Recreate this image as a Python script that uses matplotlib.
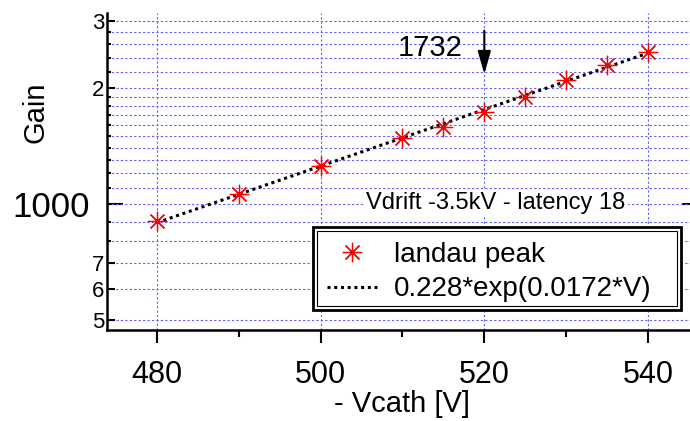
import numpy as np
import matplotlib
matplotlib.use('Agg')
import matplotlib.pyplot as plt
from matplotlib.ticker import FixedLocator, FixedFormatter, NullLocator
from matplotlib.patches import Rectangle

# data
vcath = [480, 490, 500, 510, 515, 520, 525, 530, 535, 540]
gain = [903, 1062, 1258, 1482, 1589, 1732, 1901, 2101, 2299, 2489]

fit_label = '0.228*exp(0.0172*V)'
point_label = 'landau peak'
run_info = 'Vdrift -3.5kV - latency 18'

ytick_major = [500, 600, 700, 2000, 3000]
ytick_major_labels = ['5', '6', '7', '2', '3']
ytick_minor = [800, 900, 1000, 1100, 1200, 1300, 1400, 1500, 1600, 1700,
               1800, 1900, 2200, 2400, 2600, 2800]
xtick_major = [480, 500, 520, 540]
xtick_minor = [490, 510, 530]

plt.rcParams['font.family'] = ['Liberation Sans', 'DejaVu Sans']

fig = plt.figure(figsize=(6.9, 4.21), dpi=100)
ax = fig.add_axes([0.1551, 0.2162, 0.8478, 0.7530])

grid_kw = dict(color='#6060ff', linestyle=(0, (2, 2)), linewidth=0.8)

ax.set_yscale('log')
ax.set_xlim(473.89, 545.38)
ax.set_ylim(470, 3139)

# exponential fit through the points
b, a = np.polyfit(vcath, np.log(gain), 1)
vfit = np.linspace(vcath[0], vcath[-1], 100)
ax.plot(vfit, np.exp(a + b * vfit), color='black', linestyle=(0, (1, 1.2)),
        linewidth=2.2, zorder=3, label=fit_label)
ax.plot(vcath, gain, linestyle='none', marker=(8, 2, 0), markersize=14,
        markeredgecolor='red', markeredgewidth=0.9, zorder=4,
        label=point_label)

# y ticks
ax.yaxis.set_major_locator(FixedLocator(ytick_major))
ax.yaxis.set_major_formatter(FixedFormatter(ytick_major_labels))
ax.yaxis.set_minor_locator(FixedLocator(ytick_minor))
ax.yaxis.set_minor_formatter(FixedFormatter([''] * len(ytick_minor)))
ax.tick_params(axis='y', which='major', direction='in', length=6, width=1.5,
               labelsize=16, pad=2)
ax.tick_params(axis='y', which='minor', direction='in', length=3, width=1.5)

# the 1000 tick, long and with a big label
sec = ax.secondary_yaxis('left')
sec.yaxis.set_major_locator(FixedLocator([1000]))
sec.yaxis.set_major_formatter(FixedFormatter(['1000']))
sec.yaxis.set_minor_locator(NullLocator())
sec.tick_params(axis='y', direction='in', length=11.5, width=1.5,
                labelsize=25, pad=12)
sec.spines['left'].set_visible(False)
sec_r = ax.secondary_yaxis('right')
sec_r.yaxis.set_major_locator(FixedLocator([1000]))
sec_r.yaxis.set_minor_locator(NullLocator())
sec_r.tick_params(axis='y', direction='in', length=7, width=1.5,
                  labelright=False)
sec_r.spines['right'].set_visible(False)

# x ticks
ax.xaxis.set_major_locator(FixedLocator(xtick_major))
ax.xaxis.set_minor_locator(FixedLocator(xtick_minor))
ax.tick_params(axis='x', which='major', direction='out', length=9, width=1.5,
               labelsize=22, pad=12.5)
ax.tick_params(axis='x', which='minor', direction='out', length=5, width=1.5)

ax.grid(True, axis='y', which='both', **grid_kw)
ax.grid(True, axis='x', which='major', **grid_kw)
ax.set_axisbelow(True)

for side in ['top', 'right']:
    ax.spines[side].set_visible(False)
for side in ['left', 'bottom']:
    ax.spines[side].set_linewidth(1.8)

ax.set_xlabel('- Vcath [V]', fontsize=21)
ax.xaxis.set_label_coords(0.504, -0.189)
fig.text(0.052, 1 - 112 / 421, 'Gain', rotation=90, fontsize=21,
         ha='center', va='center')

ax.text(521.4, 1005, run_info, fontsize=17, ha='center', va='center',
        zorder=5, bbox=dict(facecolor='white', edgecolor='none', pad=1.5))

# arrow pointing at the 520 V point
ax.annotate('', xy=(520, 2140), xytext=(520, 2870),
            arrowprops=dict(arrowstyle='-|>,head_length=1.4,head_width=0.4',
                            color='black', lw=1.5), zorder=5)
ax.text(513.4, 2540, str(gain[vcath.index(520)]), fontsize=21,
        ha='center', va='center')

# legend with a double frame
x0, y0 = (313 - 107) / 585, (330 - 310) / 317
w, h = (681 - 313) / 585, (310 - 227) / 317
ax.add_patch(Rectangle((x0, y0), w, h, transform=ax.transAxes,
                       facecolor='white', edgecolor='black', linewidth=2,
                       zorder=6))
ix0, iy0 = (317 - 107) / 585, (330 - 306) / 317
iw, ih = (677 - 317) / 585, (306 - 231) / 317
ax.add_patch(Rectangle((ix0, iy0), iw, ih, transform=ax.transAxes,
                       facecolor='none', edgecolor='black', linewidth=0.8,
                       zorder=6))
handles, labels = ax.get_legend_handles_labels()
leg = ax.legend(handles[::-1], labels[::-1], loc='upper left',
                bbox_to_anchor=((327 - 107) / 585, (330 - 242) / 317),
                frameon=False, fontsize=20, handlelength=1.8,
                handletextpad=0.6, borderpad=0, borderaxespad=0,
                labelspacing=0.3)
leg.set_zorder(7)

fig.savefig('out.png', dpi=100)
